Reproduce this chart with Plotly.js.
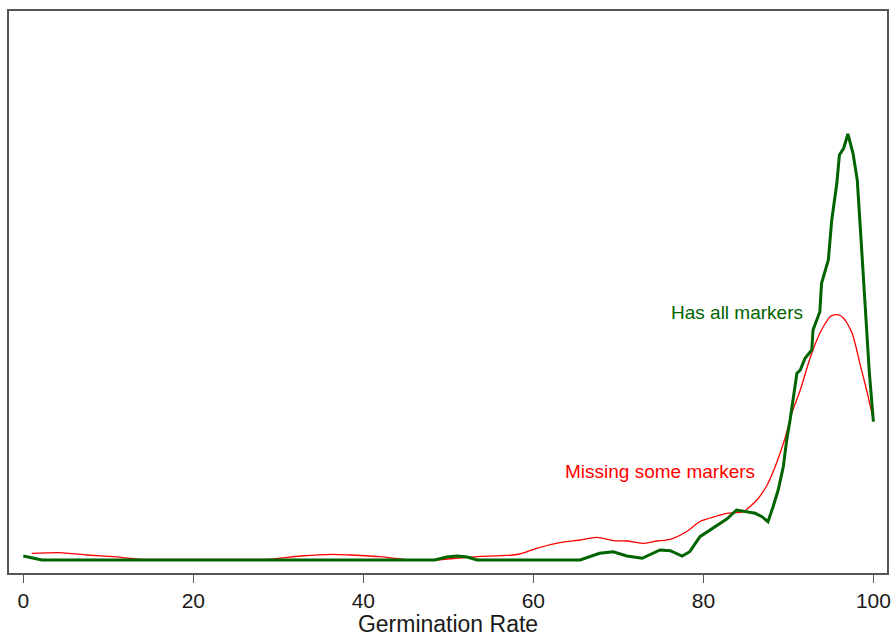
<!DOCTYPE html>
<html>
<head>
<meta charset="utf-8">
<script src="https://cdn.plot.ly/plotly-3.0.1.min.js"></script>
<style>html,body{margin:0;padding:0;background:#fff;}#chart{width:896px;height:637px;}</style>
</head>
<body>
<div id="chart"></div>
<script>
// Germination rate (x) and kernel density estimates (y)
const allX = [0.0, 2.2, 10, 20, 30, 40, 48.4, 49.8, 51.0, 52.2, 53.4, 60, 65.5, 67.8, 69.4, 71.0, 72.8, 74.9, 76.1, 77.5, 78.4, 79.6, 80.8, 82.0, 82.75, 83.9, 85.1, 86.1, 86.9, 87.6, 88.2, 88.8, 89.4, 89.8, 90.2, 91.0, 91.4, 91.96, 92.75, 92.9, 93.7, 93.9, 94.7, 95.1, 95.7, 96.0, 96.5, 97.0, 97.6, 98.1, 98.6, 99.1, 99.5, 100.0];
const allY = [0.0008, 0, 0, 0, 0, 0, 0, 0.0006, 0.0008, 0.0006, 0, 0, 0, 0.00134, 0.00166, 0.0008, 0.00034, 0.002, 0.00186, 0.0008, 0.00166, 0.00466, 0.006, 0.00734, 0.0082, 0.01, 0.00966, 0.00934, 0.00866, 0.00766, 0.01066, 0.014, 0.01866, 0.024, 0.028, 0.03734, 0.038, 0.04034, 0.042, 0.046, 0.04966, 0.05534, 0.06, 0.068, 0.07534, 0.081, 0.08234, 0.0852, 0.08134, 0.076, 0.06266, 0.048, 0.038, 0.02766];

const missX = [1.0, 4.3, 7.5, 10.6, 14.1, 20.8, 28.6, 32.6, 36.4, 38.4, 42.0, 45.5, 48.6, 52.2, 57.6, 58.4, 60.4, 63.1, 65.5, 67.5, 69.4, 71.0, 72.8, 74.5, 76.1, 78.0, 79.6, 81.6, 82.75, 84.7, 86.3, 87.5, 88.6, 89.6, 90.4, 91.4, 92.6, 93.7, 94.3, 94.9, 95.3, 95.7, 96.1, 96.5, 97.0, 97.5, 98.0, 98.4, 99.2, 100.0];
const missY = [0.00134, 0.00146, 0.001, 0.00066, 0.00014, 0.00014, 0.00014, 0.0008, 0.00114, 0.001, 0.00066, 0, 0, 0.00054, 0.001, 0.0012, 0.00234, 0.00346, 0.004, 0.00454, 0.00386, 0.0038, 0.00334, 0.0038, 0.00414, 0.00566, 0.0077, 0.0088, 0.00934, 0.00966, 0.012, 0.015, 0.01934, 0.02434, 0.02934, 0.034, 0.04066, 0.04534, 0.0472, 0.04866, 0.049, 0.04906, 0.0489, 0.04834, 0.0471, 0.04534, 0.0423, 0.03934, 0.034, 0.028];

const xTicks = [0, 20, 40, 60, 80, 100];
const seriesNames = ["Has all markers", "Missing some markers"];

const green = "#006400";
const red = "#ff0000";
const frame = "#555555";
const font = "Liberation Sans, Arial, sans-serif";

const traces = [
  {x: missX, y: missY, type: "scatter", mode: "lines", name: seriesNames[1],
   line: {color: red, width: 1.3, shape: "spline", smoothing: 0.6}, hoverinfo: "skip"},
  {x: allX, y: allY, type: "scatter", mode: "lines", name: seriesNames[0],
   line: {color: green, width: 3}, hoverinfo: "skip"}
];

const layout = {
  width: 896, height: 637,
  margin: {l: 9, r: 9, t: 11, b: 64},
  paper_bgcolor: "#ffffff", plot_bgcolor: "#ffffff",
  showlegend: false,
  font: {family: font, color: "#1a1a1a"},
  xaxis: {
    range: [-1.68, 101.6],
    tickvals: xTicks, ticktext: xTicks.map(String),
    ticks: "outside", ticklen: 8, tickwidth: 1.5, tickcolor: frame,
    showline: true, linecolor: frame, linewidth: 2, mirror: true,
    showgrid: false, zeroline: false,
    tickfont: {size: 21, color: "#1a1a1a", family: font},
    title: {text: "Germination Rate", font: {size: 23, color: "#1a1a1a", family: font}, standoff: 3}
  },
  yaxis: {
    range: [-0.0026, 0.1098],
    showticklabels: false, ticks: "",
    showline: true, linecolor: frame, linewidth: 2, mirror: true,
    showgrid: false, zeroline: false
  },
  annotations: [
    {x: 83.9, y: 0.0496, text: seriesNames[0], showarrow: false,
     font: {size: 19, color: green, family: font}, xanchor: "center", yanchor: "middle"},
    {x: 74.9, y: 0.0178, text: seriesNames[1], showarrow: false,
     font: {size: 19, color: red, family: font}, xanchor: "center", yanchor: "middle"}
  ]
};

Plotly.newPlot("chart", traces, layout, {staticPlot: true, displayModeBar: false});
</script>
</body>
</html>
